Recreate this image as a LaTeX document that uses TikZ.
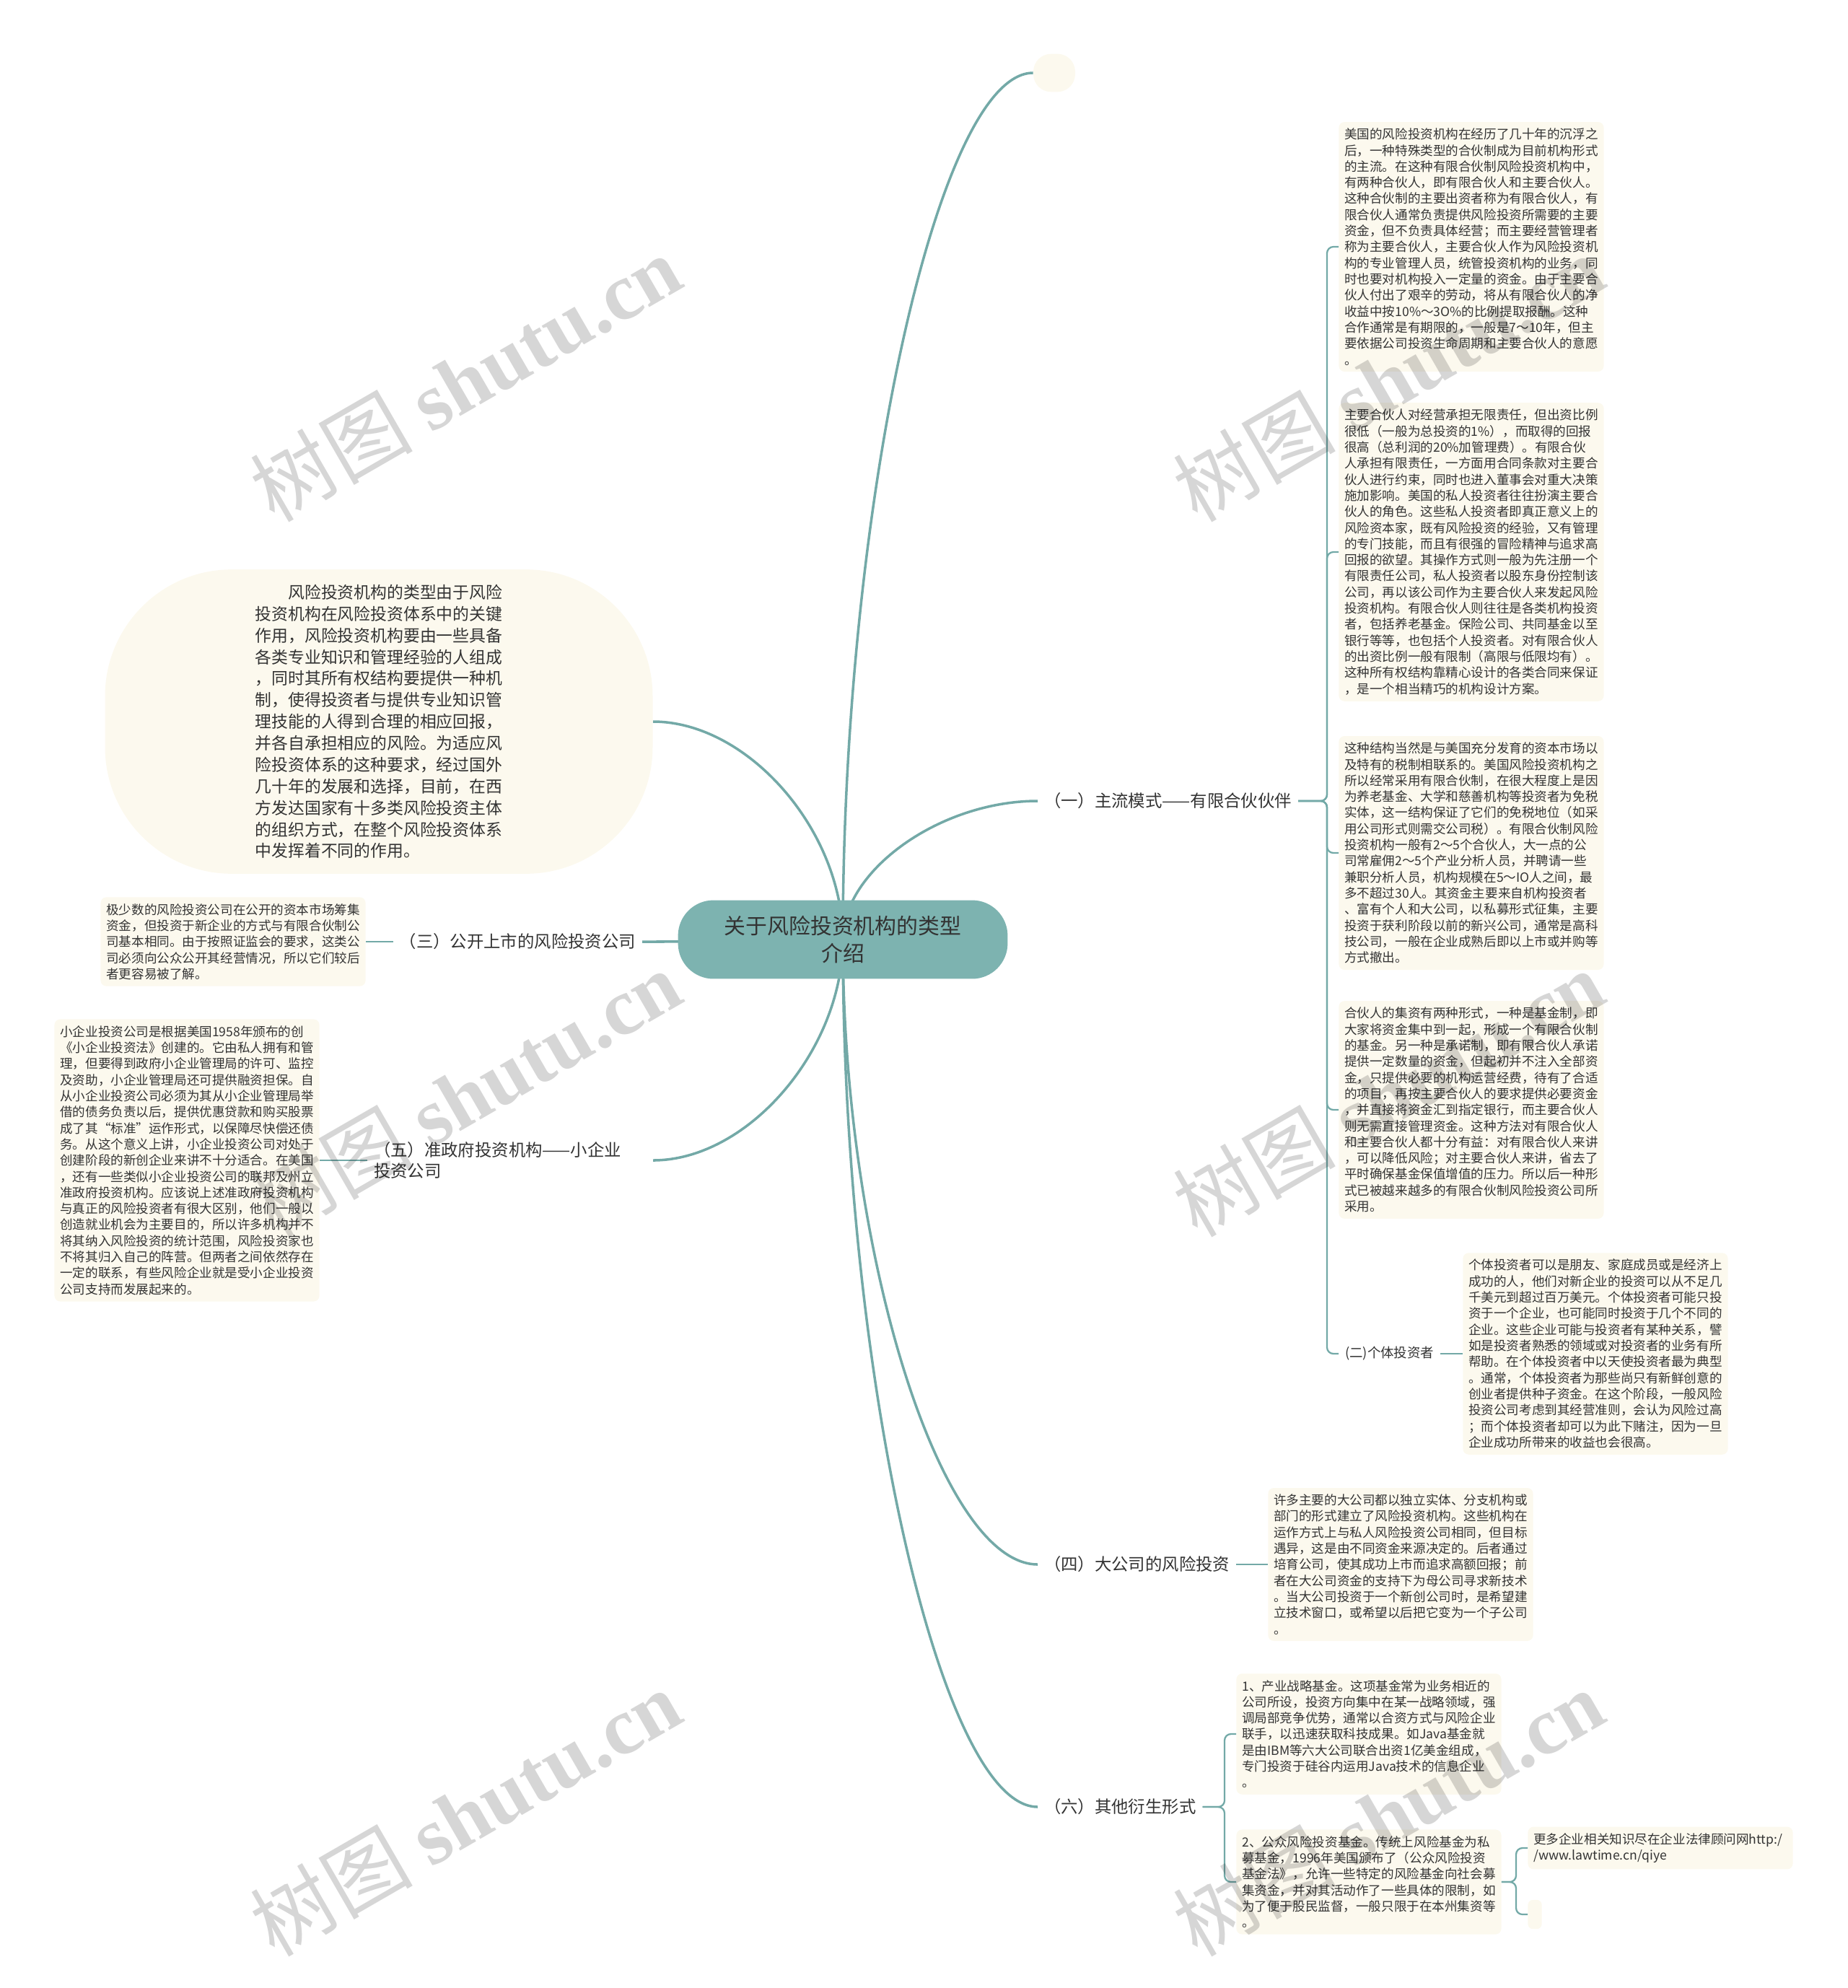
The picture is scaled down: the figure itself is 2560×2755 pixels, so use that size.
\documentclass[tikz,border=0pt]{standalone}
\usepackage{fontspec}
\setmainfont{Noto Sans CJK SC}
\newfontfamily\wmserif{Liberation Serif}
\usetikzlibrary{calc,backgrounds}

\definecolor{mmteal}{HTML}{73A9A7}
\definecolor{mmroot}{HTML}{7DB3B0}
\definecolor{mmcream}{HTML}{FCF9EE}
\definecolor{mmtext}{HTML}{333333}

\tikzset{
  leaf/.style={fill=mmcream, rounded corners=4.5pt, text width=200pt, align=left,
    inner xsep=4.5pt, inner ysep=5pt, text=mmtext,
    font=\fontsize{10pt}{12.7pt}\selectfont},
  branch/.style={text=mmtext, inner xsep=5pt, inner ysep=3pt,
    font=\fontsize{13.3pt}{17pt}\selectfont},
  mainline/.style={draw=mmteal, line width=2pt},
  subline/.style={draw=mmteal, line width=1.3pt, rounded corners=5pt},
  watermark/.style={rotate=30, opacity=0.16, text=black,
    font=\fontsize{64pt}{70pt}\selectfont},
}

\begin{document}
\begin{tikzpicture}[x=0.02cm, y=-0.02cm]
\useasboundingbox (0,0) rectangle (2560,2755);

% root and first level
\node[fill=mmroot, rounded corners=28pt, minimum width=260pt, minimum height=62pt,
  align=center, text=mmtext, font=\fontsize{17pt}{22pt}\selectfont] (root) at (1168,1302)
  {关于风险投资机构的类型\\介绍};
\node[fill=mmcream, minimum width=33pt, minimum height=30pt, rounded corners=14pt] (top) at (1461,101) {};
\node[fill=mmcream, rounded corners=100pt, minimum width=432pt, minimum height=240pt,
  text width=195pt, align=left, text=mmtext, font=\fontsize{13pt}{17pt}\selectfont] (big) at (525,1000)
  {\hspace*{2em}风险投资机构的类型由于风险\\
投资机构在风险投资体系中的关键\\
作用，风险投资机构要由一些具备\\
各类专业知识和管理经验的人组成\\
，同时其所有权结构要提供一种机\\
制，使得投资者与提供专业知识管\\
理技能的人得到合理的相应回报，\\
并各自承担相应的风险。为适应风\\
险投资体系的这种要求，经过国外\\
几十年的发展和选择，目前，在西\\
方发达国家有十多类风险投资主体\\
的组织方式，在整个风险投资体系\\
中发挥着不同的作用。};

\node[branch, anchor=west] (l1) at (1438,1110) {（一）主流模式——有限合伙伙伴};
\node[branch, anchor=east] (l3) at (890,1305) {（三）公开上市的风险投资公司};
\node[branch, anchor=west] (l4) at (1438,2168) {（四）大公司的风险投资};
\node[branch, anchor=east, text width=215pt, align=left] (l5) at (905,1608)
  {（五）准政府投资机构——小企业\\投资公司};
\node[branch, anchor=west] (l6) at (1438,2504) {（六）其他衍生形式};

% (一) children
\node[leaf, anchor=west] (b1) at (1855,342) {美国的风险投资机构在经历了几十年的沉浮之\\
后，一种特殊类型的合伙制成为目前机构形式\\
的主流。在这种有限合伙制风险投资机构中，\\
有两种合伙人，即有限合伙人和主要合伙人。\\
这种合伙制的主要出资者称为有限合伙人，有\\
限合伙人通常负责提供风险投资所需要的主要\\
资金，但不负责具体经营；而主要经营管理者\\
称为主要合伙人，主要合伙人作为风险投资机\\
构的专业管理人员，统管投资机构的业务，同\\
时也要对机构投入一定量的资金。由于主要合\\
伙人付出了艰辛的劳动，将从有限合伙人的净\\
收益中按10\%～3O\%的比例提取报酬。这种\\
合作通常是有期限的，一般是7～10年，但主\\
要依据公司投资生命周期和主要合伙人的意愿\\
。};
\node[leaf, anchor=west] (b2) at (1855,765) {主要合伙人对经营承担无限责任，但出资比例\\
很低（一般为总投资的1\%），而取得的回报\\
很高（总利润的20\%加管理费）。有限合伙\\
人承担有限责任，一方面用合同条款对主要合\\
伙人进行约束，同时也进入董事会对重大决策\\
施加影响。美国的私人投资者往往扮演主要合\\
伙人的角色。这些私人投资者即真正意义上的\\
风险资本家，既有风险投资的经验，又有管理\\
的专门技能，而且有很强的冒险精神与追求高\\
回报的欲望。其操作方式则一般为先注册一个\\
有限责任公司，私人投资者以股东身份控制该\\
公司，再以该公司作为主要合伙人来发起风险\\
投资机构。有限合伙人则往往是各类机构投资\\
者，包括养老基金。保险公司、共同基金以至\\
银行等等，也包括个人投资者。对有限合伙人\\
的出资比例一般有限制（高限与低限均有）。\\
这种所有权结构靠精心设计的各类合同来保证\\
，是一个相当精巧的机构设计方案。};
\node[leaf, anchor=west] (b3) at (1855,1182) {这种结构当然是与美国充分发育的资本市场以\\
及特有的税制相联系的。美国风险投资机构之\\
所以经常采用有限合伙制，在很大程度上是因\\
为养老基金、大学和慈善机构等投资者为免税\\
实体，这一结构保证了它们的免税地位（如采\\
用公司形式则需交公司税）。有限合伙制风险\\
投资机构一般有2～5个合伙人，大一点的公\\
司常雇佣2～5个产业分析人员，并聘请一些\\
兼职分析人员，机构规模在5～IO人之间，最\\
多不超过30人。其资金主要来自机构投资者\\
、富有个人和大公司，以私募形式征集，主要\\
投资于获利阶段以前的新兴公司，通常是高科\\
技公司，一般在企业成熟后即以上市或并购等\\
方式撤出。};
\node[leaf, anchor=west] (b4) at (1855,1538) {合伙人的集资有两种形式，一种是基金制，即\\
大家将资金集中到一起，形成一个有限合伙制\\
的基金。另一种是承诺制，即有限合伙人承诺\\
提供一定数量的资金，但起初并不注入全部资\\
金，只提供必要的机构运营经费，待有了合适\\
的项目，再按主要合伙人的要求提供必要资金\\
，并直接将资金汇到指定银行，而主要合伙人\\
则无需直接管理资金。这种方法对有限合伙人\\
和主要合伙人都十分有益：对有限合伙人来讲\\
，可以降低风险；对主要合伙人来讲，省去了\\
平时确保基金保值增值的压力。所以后一种形\\
式已被越来越多的有限合伙制风险投资公司所\\
采用。};
\node[branch, anchor=west, font=\fontsize{10.5pt}{13pt}\selectfont] (l2) at (1855,1876) {(二)个体投资者};
\node[leaf, anchor=west] (indiv) at (2027,1876) {个体投资者可以是朋友、家庭成员或是经济上\\
成功的人，他们对新企业的投资可以从不足几\\
千美元到超过百万美元。个体投资者可能只投\\
资于一个企业，也可能同时投资于几个不同的\\
企业。这些企业可能与投资者有某种关系，譬\\
如是投资者熟悉的领域或对投资者的业务有所\\
帮助。在个体投资者中以天使投资者最为典型\\
。通常，个体投资者为那些尚只有新鲜创意的\\
创业者提供种子资金。在这个阶段，一般风险\\
投资公司考虑到其经营准则，会认为风险过高\\
；而个体投资者却可以为此下赌注，因为一旦\\
企业成功所带来的收益也会很高。};

% left children
\node[leaf, anchor=east] (pub) at (507,1305) {极少数的风险投资公司在公开的资本市场筹集\\
资金，但投资于新企业的方式与有限合伙制公\\
司基本相同。由于按照证监会的要求，这类公\\
司必须向公众公开其经营情况，所以它们较后\\
者更容易被了解。};
\node[leaf, anchor=east] (sbic) at (443,1608) {小企业投资公司是根据美国1958年颁布的创\\
《小企业投资法》创建的。它由私人拥有和管\\
理，但要得到政府小企业管理局的许可、监控\\
及资助，小企业管理局还可提供融资担保。自\\
从小企业投资公司必须为其从小企业管理局举\\
借的债务负责以后，提供优惠贷款和购买股票\\
成了其“标准”运作形式，以保障尽快偿还债\\
务。从这个意义上讲，小企业投资公司对处于\\
创建阶段的新创企业来讲不十分适合。在美国\\
，还有一些类似小企业投资公司的联邦及州立\\
准政府投资机构。应该说上述准政府投资机构\\
与真正的风险投资者有很大区别，他们一般以\\
创造就业机会为主要目的，所以许多机构并不\\
将其纳入风险投资的统计范围，风险投资家也\\
不将其归入自己的阵营。但两者之间依然存在\\
一定的联系，有些风险企业就是受小企业投资\\
公司支持而发展起来的。};

% (四) and (六) children
\node[leaf, anchor=west] (corp) at (1757,2168) {许多主要的大公司都以独立实体、分支机构或\\
部门的形式建立了风险投资机构。这些机构在\\
运作方式上与私人风险投资公司相同，但目标\\
遇异，这是由不同资金来源决定的。后者通过\\
培育公司，使其成功上市而追求高额回报；前\\
者在大公司资金的支持下为母公司寻求新技术\\
。当大公司投资于一个新创公司时，是希望建\\
立技术窗口，或希望以后把它变为一个子公司\\
。};
\node[leaf, anchor=west] (fund1) at (1713,2403) {1、产业战略基金。这项基金常为业务相近的\\
公司所设，投资方向集中在某一战略领域，强\\
调局部竞争优势，通常以合资方式与风险企业\\
联手，以迅速获取科技成果。如Java基金就\\
是由IBM等六大公司联合出资1亿美金组成，\\
专门投资于硅谷内运用Java技术的信息企业\\
。};
\node[leaf, anchor=west] (fund2) at (1713,2608) {2、公众风险投资基金。传统上风险基金为私\\
募基金，1996年美国颁布了（公众风险投资\\
基金法》，允许一些特定的风险基金向社会募\\
集资金，并对其活动作了一些具体的限制，如\\
为了便于股民监督，一般只限于在本州集资等\\
。};
\node[leaf, anchor=west] (link) at (2117,2561) {更多企业相关知识尽在企业法律顾问网http:/\\
/www.lawtime.cn/qiye};
\node[fill=mmcream, rounded corners=4pt, minimum width=11pt, minimum height=23pt, anchor=west] (blank) at (2117,2653) {};

% connectors
\begin{scope}[on background layer]
\foreach \t in {top,l1,l4,l6} {
  \coordinate (m) at ($(root.center)!.5!(\t.west)$);
  \draw[mainline] (root.center) .. controls (root.center |- m) and (m |- \t.west) .. (\t.west);
}
\foreach \t in {big,l3,l5} {
  \coordinate (m) at ($(root.center)!.5!(\t.east)$);
  \draw[mainline] (root.center) .. controls (root.center |- m) and (m |- \t.east) .. (\t.east);
}
\end{scope}
\foreach \t in {b1,b2,b3,b4,l2}
  \draw[subline] (l1.east) -| ($(\t.west)+(-16,0)$) -- (\t.west);
\foreach \t in {fund1,fund2}
  \draw[subline] (l6.east) -| ($(\t.west)+(-16,0)$) -- (\t.west);
\foreach \t in {link,blank}
  \draw[subline] (fund2.east) -| ($(\t.west)+(-16,0)$) -- (\t.west);
\draw[subline] (l2.east) -- (indiv.west);
\draw[subline] (l4.east) -- (corp.west);
\draw[subline] (l3.west) -- (pub.east);
\draw[subline] (l5.west) -- (sbic.east);

% watermarks
\foreach \x in {645,1924}
  \foreach \y in {524,1515,2512}
    \node[watermark] at (\x,\y) {树图 {\wmserif\bfseries shutu.cn}};
\end{tikzpicture}
\end{document}
